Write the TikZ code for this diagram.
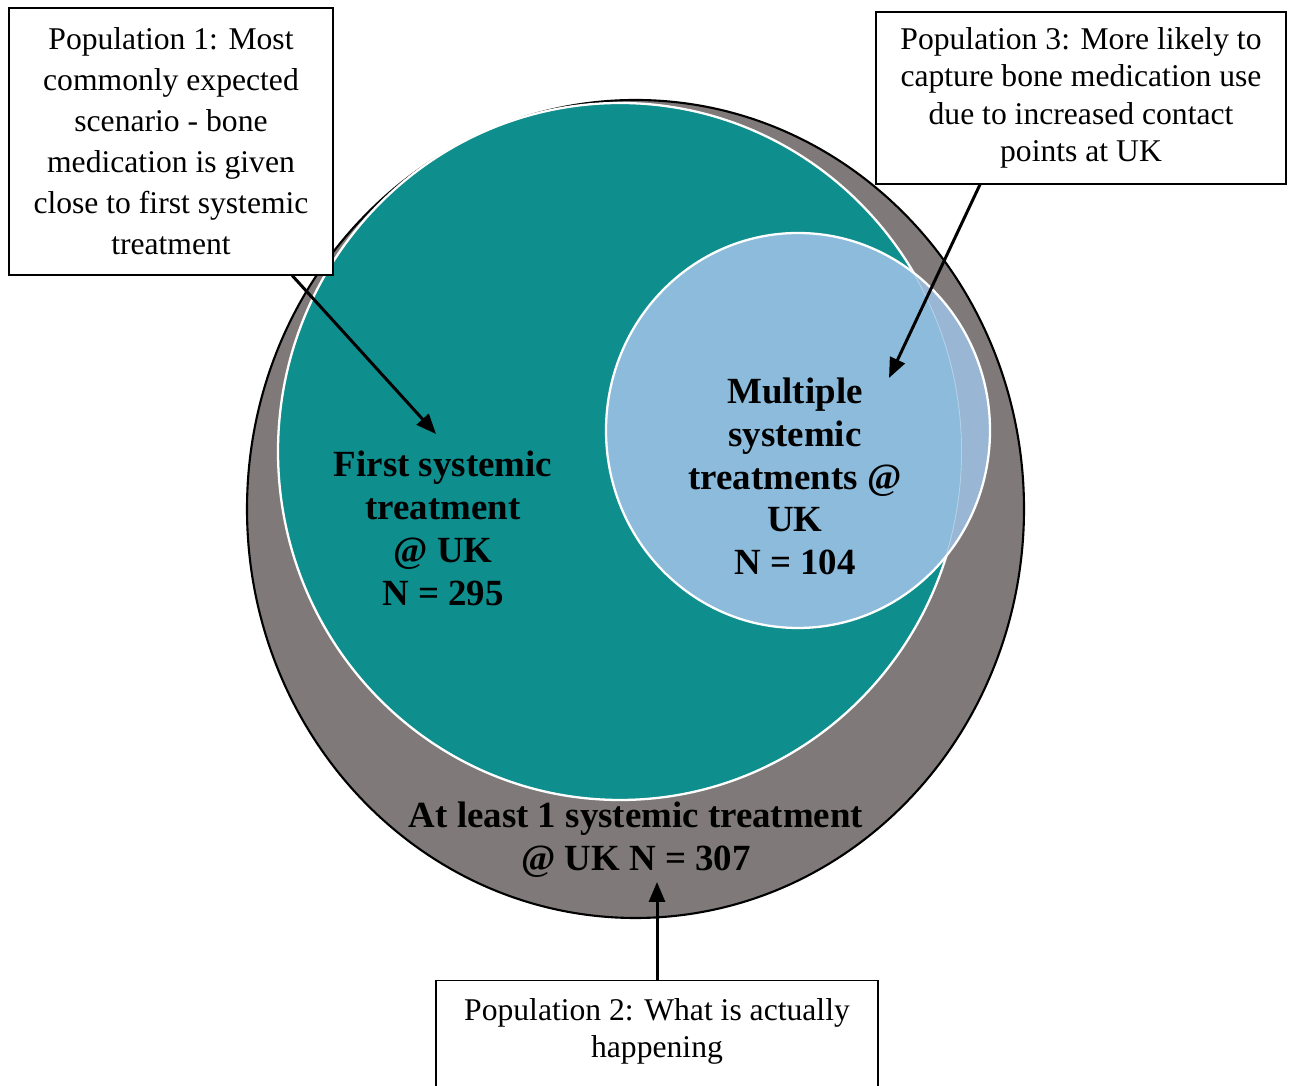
\documentclass[tikz,border=0pt]{standalone}
\usepackage{fontspec}
\setmainfont{Liberation Serif}
\usepackage{xcolor}
\usetikzlibrary{arrows.meta,positioning,calc}
\definecolor{ink}{HTML}{000000}
\definecolor{allgray}{HTML}{7F7A79}
\definecolor{teal1}{HTML}{0F8E8E}
\definecolor{blue1}{HTML}{8CBBDB}
\definecolor{blue2}{HTML}{99B6D5}
\tikzset{
  >={Triangle[length=4mm,width=3.2mm]},
  pointer/.style={->,draw=ink,line width=1.7pt},
  popbox/.style={draw=ink,fill=white,line width=0.6pt,align=center,text=ink},
  popfont/.style={font=\fontsize{18}{21.3}\selectfont,text=ink,align=center},
  setlabel/.style={font=\bfseries\fontsize{21}{24.4}\selectfont,text=ink,align=center},
  ring/.style={draw=white,line width=1.3pt},
}

\begin{document}
\begin{tikzpicture}[x=1cm,y=1cm]
\useasboundingbox (0,0) rectangle (25.84,21.72);

% Venn sets ---------------------------------------------------------------------
\coordinate (allc) at (12.71,11.54);
\coordinate (firstc) at (12.40,12.69);
\coordinate (multic) at (15.96,13.11);

\draw[fill=allgray,draw=ink,line width=1.2pt] (allc) ellipse [x radius=7.77cm,y radius=8.18cm];
\fill[teal1] (firstc) ellipse [x radius=6.84cm,y radius=6.97cm];
\draw[ring] (firstc) ellipse [x radius=6.84cm,y radius=6.97cm];
\fill[blue2] (multic) ellipse [x radius=3.84cm,y radius=3.95cm];
\begin{scope}
  \clip (firstc) ellipse [x radius=6.84cm,y radius=6.97cm];
  \fill[blue1] (multic) ellipse [x radius=3.84cm,y radius=3.95cm];
  \draw[white,opacity=0.35,line width=1pt] (firstc) ellipse [x radius=6.84cm,y radius=6.97cm];
\end{scope}
\draw[ring] (multic) ellipse [x radius=3.84cm,y radius=3.95cm];

\node[setlabel] (first) at (8.86,11.15) {First systemic\\treatment\\@ UK\\N = 295};
\node[setlabel] (multi) at (15.90,12.19) {Multiple\\systemic\\treatments @\\UK\\N = 104};
\node[setlabel] (least) at (12.72,4.92) {At least 1 systemic treatment\\@ UK N = 307};

% Population boxes --------------------------------------------------------------
\coordinate (firsttip) at (8.72,13.04);
\coordinate (multitip) at (17.78,14.16);
\coordinate (leasttip) at (13.14,4.08);

\node[popbox,popfont,font=\fontsize{18}{23.3}\selectfont,minimum width=6.48cm,minimum height=5.34cm] (pop1) at (3.42,18.89) {Population 1: Most\\commonly expected\\scenario - bone\\medication is given\\close to first systemic\\treatment};
\draw[pointer] (pop1) -- (firsttip);

\node[popbox,popfont,minimum width=8.2cm,minimum height=3.44cm] (pop3) at (21.62,19.76) {Population 3: More likely to\\capture bone medication use\\due to increased contact\\points at UK};
\draw[pointer] ([xshift=-2.02cm]pop3.south) -- (multitip);

\node[popbox,minimum width=8.84cm,minimum height=2.4cm,anchor=north] (pop2) at (13.14,2.12) {};
\node[popfont,font=\fontsize{18}{21.5}\selectfont] (pop2text) at (13.14,1.09) {Population 2: What is actually\\happening};
\draw[pointer] (pop2.north) -- (leasttip);

\end{tikzpicture}
\end{document}
